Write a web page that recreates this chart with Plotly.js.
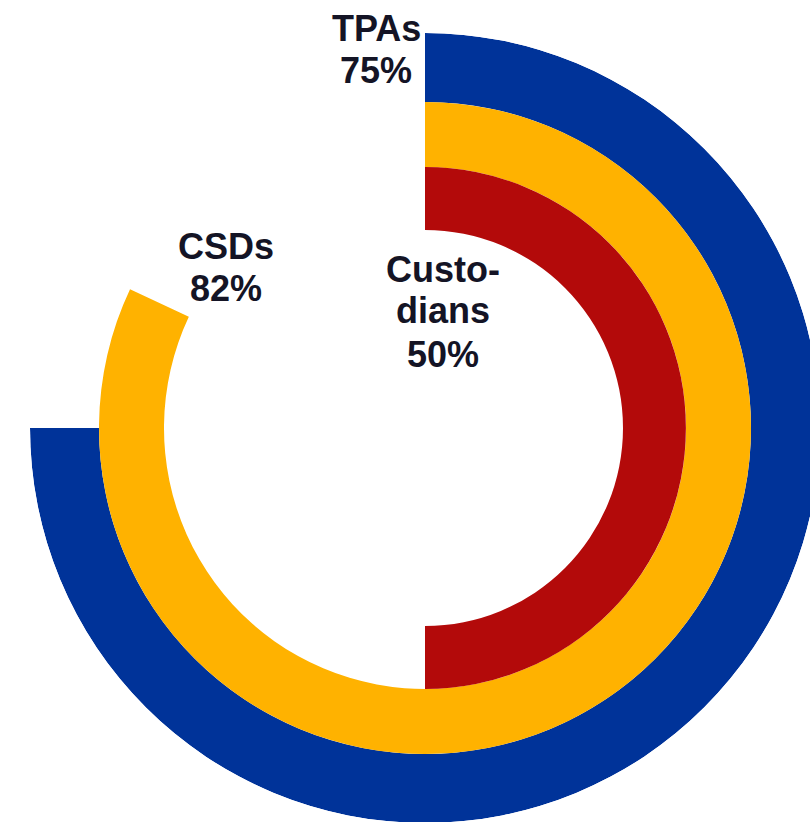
<!DOCTYPE html>
<html>
<head>
<meta charset="utf-8">
<script src="https://cdn.plot.ly/plotly-3.0.1.min.js"></script>
<style>
html, body { margin: 0; padding: 0; overflow: hidden; background: #ffffff; }
#chart { width: 830px; height: 830px; }
</style>
</head>
<body>
<div id="chart"></div>
<script>
// ---- data ----
const categories = ["TPAs", "CSDs", "Custodians"];
const labelLines = [["TPAs", "75%"], ["CSDs", "82%"], ["Custo-", "dians", "50%"]];
const values = [75, 82, 50];          // percent of full circle
const colors = ["#003399", "#FFB200", "#B30A0A"];

// ---- layout constants (pixels) ----
const W = 830, H = 830;
const CX = 425, CY = 428;             // ring centre on screen
const edges = [395, 326, 261, 198];   // outer edge of ring 0, boundaries, inner edge of last ring
const R = edges[0];

const base = [], thick = [], theta = [], width = [];
values.forEach((v, i) => {
  base.push(edges[i + 1]);
  thick.push(edges[i] - edges[i + 1]);
  width.push(v / 100 * 360);
  theta.push(v / 100 * 360 / 2);
});

const trace = {
  type: "barpolar",
  r: thick,
  base: base,
  theta: theta,
  width: width,
  text: categories,
  marker: { color: colors, line: { width: 0 } },
  hoverinfo: "text",
  showlegend: false
};

// label positions (screen px: centre x, cap-centre y per line)
const labelPos = [
  { x: 376, y: [28, 71] },
  { x: 226, y: [246, 288] },
  { x: 443, y: [269, 310, 354] }
];

const annotations = [];
labelLines.forEach((lines, i) => {
  lines.forEach((t, j) => {
    annotations.push({
      text: "<b>" + t + "</b>",
      xref: "paper", yref: "paper",
      x: labelPos[i].x / W,
      y: 1 - labelPos[i].y[j] / H,
      xanchor: "center", yanchor: "middle",
      showarrow: false,
      font: { family: "Liberation Sans, Arial, sans-serif", size: 36, color: "#141425" }
    });
  });
});

const layout = {
  width: W, height: H,
  margin: { l: 0, r: 0, t: 0, b: 0 },
  paper_bgcolor: "#ffffff",
  showlegend: false,
  polar: {
    domain: {
      x: [(CX - R) / W, (CX + R) / W],
      y: [(H - CY - R) / H, (H - CY + R) / H]
    },
    bgcolor: "rgba(0,0,0,0)",
    barmode: "overlay",
    radialaxis: { range: [0, R], visible: false, showgrid: false, showline: false, showticklabels: false, ticks: "" },
    angularaxis: { rotation: 90, direction: "clockwise", thetaunit: "degrees", visible: false, showgrid: false, showline: false, showticklabels: false, ticks: "" }
  },
  annotations: annotations
};

Plotly.newPlot("chart", [trace], layout, { displayModeBar: false, staticPlot: true });
</script>
</body>
</html>
